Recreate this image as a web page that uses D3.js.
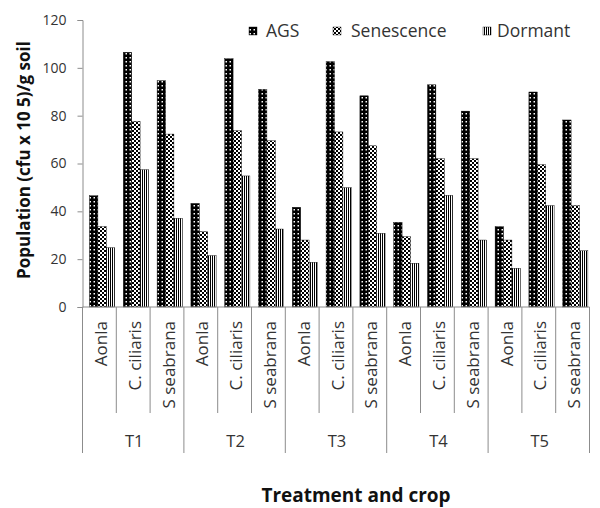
<!DOCTYPE html>
<html><head><meta charset="utf-8">
<script src="https://cdn.jsdelivr.net/npm/d3@7"></script>
<style>body{margin:0;background:#fff}svg{display:block}</style>
</head><body>
<script>
const treatments = ["T1","T2","T3","T4","T5"];
const crops = ["Aonla","C. ciliaris","S seabrana"];
const seriesNames = ["AGS","Senescence","Dormant"];
const ags =        [46.5,106.5,94.6, 43.3,103.8,91.0, 41.7,102.6,88.3, 35.4,92.9,81.9, 33.6,89.9,78.2];
const senescence = [33.6,77.6,72.3, 31.5,73.7,69.5, 28.0,73.2,67.4, 29.4,62.0,62.0, 28.0,59.5,42.4];
const dormant =    [24.8,57.4,37.1, 21.5,54.8,32.6, 18.7,49.9,30.8, 18.3,46.7,28.0, 16.2,42.4,23.5];
const yTicks = [0,20,40,60,80,100,120];

const W=600,H=508;
const svg=d3.select("body").append("svg").attr("width",W).attr("height",H);
const defs=svg.append("defs");
const p1=defs.append("pattern").attr("id","pAGS").attr("patternUnits","userSpaceOnUse").attr("width",4).attr("height",4);
p1.append("rect").attr("width",4).attr("height",4).attr("fill","#000");
p1.append("rect").attr("x",1.5).attr("y",1).attr("width",1.5).attr("height",1.5).attr("fill","#fff");
const p2=defs.append("pattern").attr("id","pSen").attr("patternUnits","userSpaceOnUse").attr("width",4).attr("height",4);
p2.append("rect").attr("width",4).attr("height",4).attr("fill","#000");
p2.append("rect").attr("x",0).attr("y",0).attr("width",2).attr("height",2).attr("fill","#fff");
p2.append("rect").attr("x",2).attr("y",2).attr("width",2).attr("height",2).attr("fill","#fff");
const p3=defs.append("pattern").attr("id","pDor").attr("patternUnits","userSpaceOnUse").attr("width",2).attr("height",2);
p3.append("rect").attr("width",2).attr("height",2).attr("fill","#fff");
p3.append("rect").attr("width",1).attr("height",2).attr("fill","#000");
const fills=["url(#pAGS)","url(#pSen)","url(#pDor)"];

const cats=[];
treatments.forEach(t=>crops.forEach(c=>cats.push(t+"|"+c)));
const x=d3.scaleBand().domain(cats).range([82.5,589.5]).padding(0);
const y=d3.scaleLinear().domain([0,120]).range([307,20]);
const sub=d3.scaleBand().domain(seriesNames).range([7,32.2]).padding(0);
const font="'Open Sans', 'DejaVu Sans', sans-serif";
const grey="#8c8c8c";

// y axis
const ya=svg.append("g").attr("transform","translate(82.5,0)")
  .call(d3.axisLeft(y).tickValues(yTicks).tickSize(5).tickPadding(11));
ya.select(".domain").attr("stroke",grey);
ya.selectAll(".tick line").attr("stroke",grey);
ya.selectAll(".tick text").attr("font-family",font).attr("font-size",14).attr("fill","#333");

// bars
const data=[ags,senescence,dormant];
cats.forEach((c,i)=>{
  seriesNames.forEach((s,j)=>{
    svg.append("rect").attr("x",x(c)+sub(s)).attr("width",sub.bandwidth())
      .attr("y",y(data[j][i])).attr("height",y(0)-y(data[j][i]))
      .attr("fill",fills[j]).attr("stroke","#000").attr("stroke-width",0.4);
  });
});

// x axis line + separators
svg.append("line").attr("x1",82.5).attr("x2",589.5).attr("y1",y(0)).attr("y2",y(0)).attr("stroke",grey);
cats.forEach((c,i)=>{
  const group=i%3===0;
  svg.append("line").attr("x1",x(c)).attr("x2",x(c)).attr("y1",y(0)).attr("y2",group?453:413).attr("stroke",grey);
});
svg.append("line").attr("x1",589.5).attr("x2",589.5).attr("y1",y(0)).attr("y2",453).attr("stroke",grey);

// crop labels
cats.forEach(c=>{
  const cx=x(c)+x.bandwidth()/2;
  svg.append("text").attr("transform",`translate(${cx+7.5},321) rotate(-90)`)
    .attr("text-anchor","end").attr("font-family",font).attr("font-size",17).attr("fill","#333")
    .text(c.split("|")[1]);
});
// treatment labels
treatments.forEach((t,k)=>{
  const cx=x(cats[k*3])+x.bandwidth()*1.5;
  svg.append("text").attr("x",cx+1).attr("y",447).attr("text-anchor","middle")
    .attr("font-family",font).attr("font-size",16.5).attr("fill","#333").text(t);
});

// titles
svg.append("text").attr("x",356).attr("y",502).attr("text-anchor","middle")
  .attr("font-family",font).attr("font-weight","bold").attr("font-size",19).attr("fill","#111")
  .text("Treatment and crop");
svg.append("text").attr("transform","translate(30,160) rotate(-90)").attr("text-anchor","middle")
  .attr("font-family",font).attr("font-weight","bold").attr("font-size",17).attr("fill","#111")
  .text("Population (cfu x 10 5)/g soil");

// legend
const legX=[249,333,483];
const legT=[266,351,497];
seriesNames.forEach((s,j)=>{
  svg.append("rect").attr("x",legX[j]).attr("y",27).attr("width",8).attr("height",8)
    .attr("fill",fills[j]).attr("stroke","#000").attr("stroke-width",0.4);
  svg.append("text").attr("x",legT[j]).attr("y",37).attr("font-family",font)
    .attr("font-size",17.5).attr("fill","#333").text(s);
});
</script>
</body></html>
